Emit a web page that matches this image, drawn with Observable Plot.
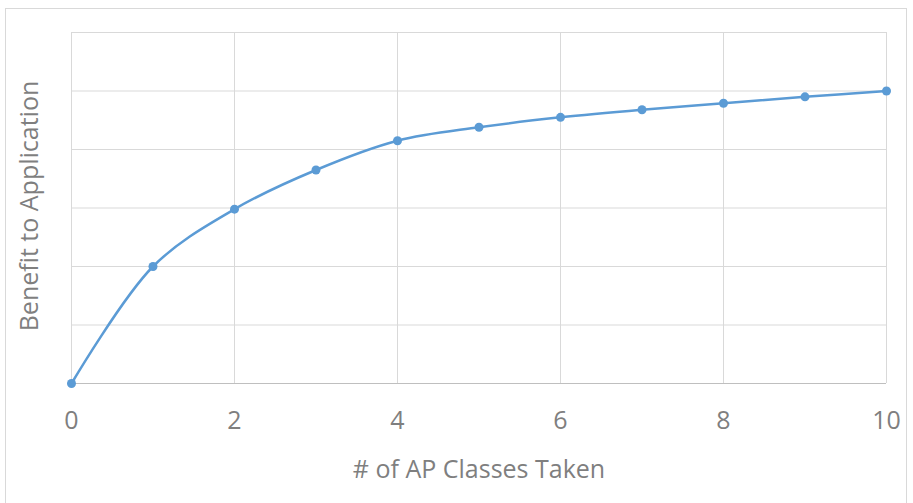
<!DOCTYPE html>
<html>
<head>
<meta charset="utf-8">
<script src="https://cdn.jsdelivr.net/npm/d3@7"></script>
<script src="https://cdn.jsdelivr.net/npm/@observablehq/plot@0.6"></script>
<style>
  html, body { margin: 0; padding: 0; background: #fff; }
  #wrap { position: relative; width: 913px; height: 503px; overflow: hidden; }
  #border { position: absolute; left: 5px; top: 8px; width: 902px; height: 520px; border: 1px solid #d9d9d9; box-sizing: border-box; pointer-events: none; }
  svg { display: block; }
</style>
</head>
<body>
<div id="wrap"><div id="border"></div></div>
<script>
const classesTaken = [0, 1, 2, 3, 4, 5, 6, 7, 8, 9, 10];
const benefit = [0, 2.0, 2.98, 3.65, 4.15, 4.38, 4.55, 4.68, 4.79, 4.9, 5.0];
const xTicks = [0, 2, 4, 6, 8, 10];
const yGrid = [0, 1, 2, 3, 4, 5, 6];
const xTitle = "# of AP Classes Taken";
const yTitle = "Benefit to Application";

const data = classesTaken.map((x, i) => ({x, y: benefit[i]}));
const font = "'Open Sans', sans-serif";

const chart = Plot.plot({
  width: 913,
  height: 503,
  marginTop: 32,
  marginRight: 27,
  marginBottom: 120,
  marginLeft: 71,
  style: {fontFamily: font, background: "transparent", overflow: "visible"},
  x: {domain: [0, 10]},
  y: {domain: [0, 6]},
  marks: [
    Plot.gridY(yGrid, {stroke: "#d9d9d9", strokeOpacity: 1, strokeWidth: 1}),
    Plot.gridX(xTicks, {stroke: "#d9d9d9", strokeOpacity: 1, strokeWidth: 1}),
    Plot.ruleY([0], {stroke: "#bfbfbf", strokeWidth: 1.2}),
    Plot.axisX(xTicks, {tickSize: 0, tickPadding: 28, fontSize: 25, fill: "#7f7f7f", label: null, tickFormat: d => String(d)}),
    Plot.axisY([], {label: null, tickSize: 0}),
    Plot.line(data, {x: "x", y: "y", curve: "catmull-rom", stroke: "#5b9bd5", strokeWidth: 2.5}),
    Plot.dot(data, {x: "x", y: "y", r: 4.5, fill: "#5b9bd5", stroke: "none"}),
    Plot.text([xTitle], {text: d => d, frameAnchor: "bottom", dy: 94, lineAnchor: "bottom", fontSize: 25, fill: "#7f7f7f"}),
    Plot.text([yTitle], {text: d => d, frameAnchor: "left", dx: -42, dy: -2, rotate: -90, textAnchor: "middle", lineAnchor: "middle", fontSize: 25, fill: "#7f7f7f"})
  ]
});
document.getElementById("wrap").prepend(chart);
</script>
</body>
</html>
